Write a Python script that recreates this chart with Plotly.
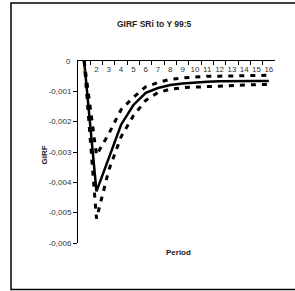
import plotly.graph_objects as go

periods = [str(i) for i in range(1, 17)]
girf = [0, -0.0043, -0.0032, -0.0021, -0.00145, -0.00105, -0.00089, -0.00079,
        -0.00074, -0.0007, -0.00068, -0.00067, -0.00066, -0.00066, -0.00066, -0.00066]
upper = [0, -0.0031, -0.0024, -0.0016, -0.0012, -0.00085, -0.00071, -0.0006,
         -0.00056, -0.00052, -0.0005, -0.0005, -0.00049, -0.00048, -0.00048, -0.00047]
lower = [0, -0.0052, -0.0036, -0.0025, -0.0018, -0.0013, -0.00104, -0.00093,
         -0.00088, -0.00086, -0.00083, -0.00082, -0.0008, -0.00079, -0.00078, -0.00077]
ytick_vals = [0, -0.001, -0.002, -0.003, -0.004, -0.005, -0.006]
ytick_text = ["0", "-0,001", "-0,002", "-0,003", "-0,004", "-0,005", "-0,006"]

W, H = 295, 291
L, R, T, B = 78, 20, 61, 48
pw, ph = W - L - R, H - T - B

def px(x):
    return (x - L) / pw

def py(y):
    return (H - B - y) / ph

fig = go.Figure()
fig.add_trace(go.Scatter(x=periods, y=upper, mode="lines",
                         line=dict(color="black", width=3, dash="5px,6px")))
fig.add_trace(go.Scatter(x=periods, y=lower, mode="lines",
                         line=dict(color="black", width=3, dash="5px,6px")))
fig.add_trace(go.Scatter(x=periods, y=girf, mode="lines",
                         line=dict(color="black", width=2.5)))

fig.update_layout(
    width=W, height=H,
    margin=dict(l=L, r=R, t=T, b=B),
    paper_bgcolor="white", plot_bgcolor="white",
    showlegend=False,
    font=dict(family="Liberation Sans, Arial, sans-serif", size=8, color="#222"),
    xaxis=dict(type="category", side="top", ticklabelposition="inside",
               tickangle=0, range=[-0.5, len(periods) - 0.5],
               tickson="boundaries", ticks="inside", ticklen=4, tickcolor="black",
               showline=True, linecolor="black", linewidth=1, showgrid=False,
               zeroline=False, tickfont=dict(size=8, color="#333"),
               fixedrange=True),
    yaxis=dict(range=[-0.006, 0], tickvals=ytick_vals, ticktext=ytick_text,
               ticks="outside", ticklen=4, tickcolor="black",
               showline=True, linecolor="black", linewidth=1, showgrid=False,
               zeroline=False, tickfont=dict(size=8, color="#333"),
               fixedrange=True),
    shapes=[dict(type="rect", xref="paper", yref="paper",
                 x0=px(11), x1=px(300), y0=py(289.5), y1=py(3),
                 line=dict(color="black", width=1.5), layer="below")],
    annotations=[
        dict(text="<b>GIRF SRi to Y 99:5</b>", xref="paper", yref="paper",
             x=px(154), y=py(17.5), showarrow=False, font=dict(size=8.5, color="#222")),
        dict(text="<b>GIRF</b>", xref="paper", yref="paper",
             x=px(37), y=py(155), showarrow=False, textangle=-90,
             font=dict(size=8, color="#222")),
        dict(text="<b>Period</b>", xref="paper", yref="paper",
             x=px(178), y=py(259), showarrow=False, font=dict(size=8, color="#222")),
        dict(text=ytick_text[0], xref="paper", yref="y", x=px(73), y=ytick_vals[0],
             xanchor="right", showarrow=False, font=dict(size=8, color="#333")),
    ],
)

fig.write_html("out.html", config={"displayModeBar": False},
               post_script="document.body.style.margin='0';document.body.style.padding='0';")
